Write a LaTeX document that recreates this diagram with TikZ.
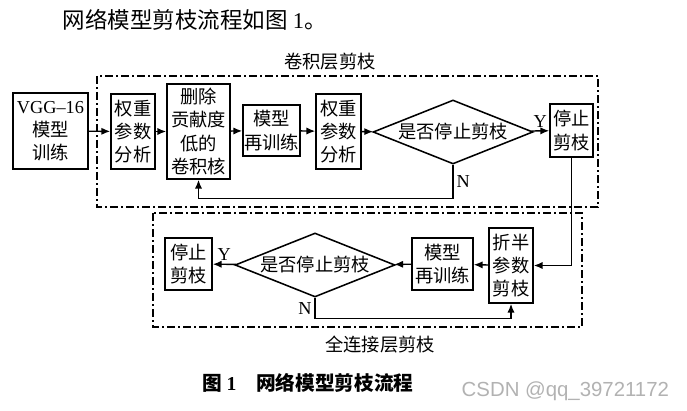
\documentclass[tikz,border=0pt]{standalone}
\usepackage{fontspec}
\setmainfont{Noto Sans CJK SC}
\newfontfamily\latin[Ligatures=TeX]{Liberation Serif}
\usetikzlibrary{shapes.geometric,arrows.meta}

\tikzset{
  box/.style={draw,line width=1.1pt,align=center,inner sep=0pt,font=\fontsize{13}{16.5}\selectfont},
  test/.style={draw,diamond,aspect=2.5,line width=1.1pt,inner sep=0pt,minimum width=40mm,minimum height=16mm,font=\fontsize{13}{16}\selectfont},
  arr/.style={line width=1pt,-{Latex[length=2.2mm,width=1.8mm]}},
  frame/.style={line width=1.1pt,dash pattern=on 2mm off 0.8mm on 0.4mm off 0.8mm},
  lab/.style={font=\fontsize{13}{16}\selectfont\latin,inner sep=2pt},
  title/.style={font=\fontsize{13}{16}\selectfont},
}

\begin{document}
\begin{tikzpicture}[x=0.25mm,y=-0.25mm]
\useasboundingbox (0,0) rectangle (687,411);

\node[anchor=west,font=\fontsize{16}{18}\selectfont] (intro) at (58,20) {网络模型剪枝流程如图 {\latin 1}。};

% conv layer pruning
\draw[frame] (97,76) rectangle (598,207);
\node[title] (convtitle) at (330,62) {卷积层剪枝};

\node[box,minimum width=18.75mm,minimum height=19mm] (vgg) at (50.5,131) {{\latin VGG–16}\\模型\\训练};
\node[box,minimum width=11mm,minimum height=18.75mm] (wa) at (133,131.5) {权重\\参数\\分析};
\node[box,minimum width=15.75mm,minimum height=23.75mm] (del) at (198.5,131.5) {删除\\贡献度\\低的\\卷积核};
\node[box,minimum width=14.25mm,minimum height=12.75mm] (rea) at (271.5,130.5) {模型\\再训练};
\node[box,minimum width=11.25mm,minimum height=18.75mm] (wb) at (338.5,131.5) {权重\\参数\\分析};
\node[test] (qa) at (453,132) {是否停止剪枝};
\node[box,minimum width=10.75mm,minimum height=13.25mm] (stopa) at (571.5,130.5) {停止\\剪枝};

\draw[arr] (vgg) -- (wa);
\draw[arr] (wa) -- (del);
\draw[arr] (del) -- (rea);
\draw[arr] (rea) -- (wb);
\draw[arr] (wb) -- (qa);
\draw[arr] (qa) -- node[lab,above] (ya) {Y} (stopa);
\draw[arr] (qa.south) -- node[lab,right] (na) {N} ++(0,34) -| (del.south);

% fc layer pruning
\draw[frame] (153,213) rectangle (582,327);
\node[title] (fctitle) at (380,345) {全连接层剪枝};

\node[box,minimum width=11mm,minimum height=18.75mm] (half) at (511,265.5) {折半\\参数\\剪枝};
\node[box,minimum width=15.25mm,minimum height=13mm] (reb) at (442.5,264) {模型\\再训练};
\node[test] (qb) at (315,265) {是否停止剪枝};
\node[box,minimum width=11.75mm,minimum height=13mm] (stopb) at (188.5,264) {停止\\剪枝};

\draw[arr] (stopa.south) |- (half.east);
\draw[arr] (half) -- (reb);
\draw[arr] (reb) -- (qb);
\draw[arr] (qb) -- node[lab,above] (yb) {Y} (stopb);
\draw[arr] (qb.south) -- node[lab,left] (nb) {N} ++(0,21) -| (half.south);

\node[font=\fontsize{14}{16}\selectfont\bfseries] (caption) at (308,383) {图 {\latin\bfseries 1}\hspace{1em}网络模型剪枝流程};
\node[anchor=east,text=black!30,font=\fontsize{14.5}{16}\selectfont\fontspec{Liberation Sans}] (mark) at (674,391) {CSDN @qq\_39721172};

\end{tikzpicture}
\end{document}
